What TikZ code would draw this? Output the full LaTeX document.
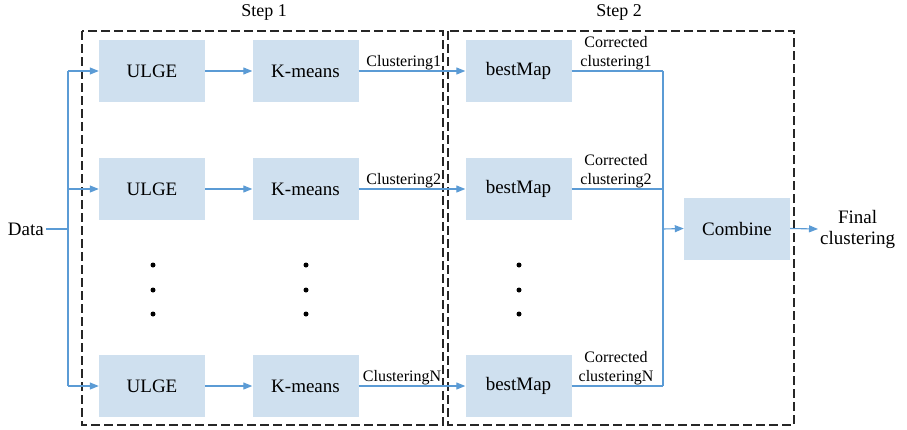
\documentclass[tikz,border=0pt]{standalone}
\usepackage{fontspec}
\setmainfont{Liberation Serif}
\usetikzlibrary{arrows.meta,positioning}
\definecolor{boxblue}{HTML}{CFE0EF}
\definecolor{lineblue}{HTML}{5B9BD5}

\begin{document}
\begin{tikzpicture}
  [x=1pt, y=-1pt,
   block/.style={fill=boxblue, minimum width=106pt, minimum height=62pt,
                 inner sep=0pt, font=\fontsize{19}{21}\selectfont},
   stage/.style={draw=black!85, dash pattern=on 9pt off 4pt, line width=1.4pt},
   wire/.style={draw=lineblue, line width=1.1pt},
   flow/.style={wire, -{Triangle[length=9pt,width=7pt]}},
   tag/.style={font=\fontsize{16}{19}\selectfont, inner sep=1pt},
   label text/.style={font=\fontsize{19}{21}\selectfont, inner sep=2pt},
   dot/.style={circle, fill=black, inner sep=0pt, minimum size=5pt}]

  \useasboundingbox (0,0) rectangle (907,429);

  % the two stages
  \draw [stage] (82,31) rectangle (443,425);
  \draw [stage] (448,31) rectangle (794,425);
  \node [label text, font=\fontsize{18}{20}\selectfont] (step1) at (264,12) {Step 1};
  \node [label text, font=\fontsize{18}{20}\selectfont] (step2) at (619,12) {Step 2};

  % input
  \node [label text, anchor=east] (data) at (46,229) {Data};
  \coordinate (split) at (68,229);
  \coordinate (merge) at (663,229);

  \foreach \r/\y in {1/71, 2/189, N/386} {
    \node [block] (ulge\r) at (152,\y)   {ULGE};
    \node [block] (km\r)   at (305.5,\y) {K-means};
    \node [block] (bm\r)   at (518.5,\y) {bestMap};

    \draw [flow] (split |- ulge\r) -- (ulge\r.west);
    \draw [flow] (ulge\r.east) -- (km\r.west);
    \draw [flow] (km\r.east) -- (bm\r.west);
    \draw [wire] (bm\r.east) -- (merge |- bm\r);

    \node [tag, anchor=south east] (cl\r) at ([xshift=-23pt]bm\r.west) {Clustering\r};
    \node [tag, anchor=south, align=center] (cc\r) at (616,\y) {Corrected\\clustering\r};
  }

  \draw [wire] (data.east) -- (split);
  \draw [wire] (split |- ulge1) -- (split |- ulgeN);
  \draw [wire] (merge |- bm1) -- (merge |- bmN);

  % combination
  \node [block] (combine) at (737,228.5) {Combine};
  \node [label text, anchor=west, align=center] (final) at (818,229) {Final\\clustering};
  \draw [flow] (merge) -- (combine.west);
  \draw [flow] (combine.east) -- (final.west);

  % omitted rows
  \foreach \x in {153,306,519}
    \foreach \y in {265,290,314}
      \node [dot] (dot-\x-\y) at (\x,\y) {};
\end{tikzpicture}
\end{document}
